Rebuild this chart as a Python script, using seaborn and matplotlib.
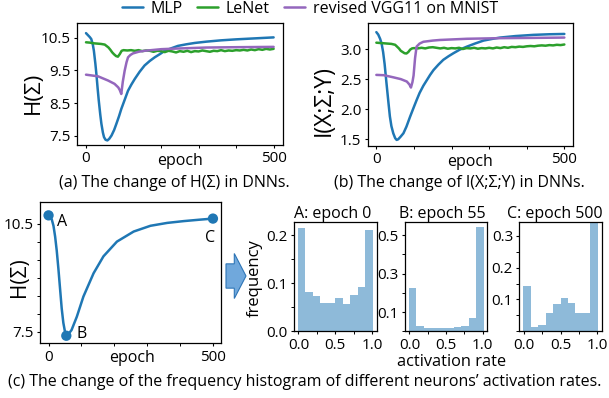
import numpy as np
import pandas as pd
import matplotlib
matplotlib.use("Agg")
import matplotlib.pyplot as plt
import seaborn as sns
from matplotlib.patches import FancyArrow
from matplotlib.ticker import FixedLocator

# ---------------- data ----------------
mlp_epoch_a = [0, 5, 10, 14, 18, 21, 25, 28, 31, 34, 38, 41, 45, 48, 52, 57, 62, 68, 75, 81,
               88, 94, 103, 112, 121, 130, 143, 156, 170, 183, 197, 210, 228, 245, 268, 290,
               321, 360, 400, 450, 500]
mlp_h = [10.64, 10.58, 10.52, 10.46, 10.3, 10.1, 9.7, 9.35, 8.95, 8.58, 8.15, 7.87, 7.6, 7.46,
         7.38, 7.36, 7.41, 7.51, 7.68, 7.87, 8.1, 8.32, 8.6, 8.88, 9.07, 9.24, 9.46, 9.65, 9.79,
         9.9, 10.0, 10.1, 10.18, 10.25, 10.3, 10.34, 10.38, 10.42, 10.45, 10.48, 10.51]
mlp_epoch_b = [0, 5, 10, 14, 18, 22, 27, 32, 36, 40, 45, 50, 54, 58, 64, 72, 80, 90, 100, 107,
               115, 125, 134, 143, 152, 165, 178, 192, 205, 222, 241, 262, 285, 310, 329, 370,
               418, 460, 500]
mlp_i = [3.28, 3.24, 3.17, 3.09, 2.95, 2.75, 2.43, 2.12, 1.88, 1.72, 1.6, 1.52, 1.49, 1.5, 1.54,
         1.6, 1.71, 1.88, 2.04, 2.15, 2.27, 2.39, 2.48, 2.57, 2.65, 2.74, 2.82, 2.88, 2.93, 2.99,
         3.04, 3.09, 3.14, 3.17, 3.19, 3.215, 3.235, 3.245, 3.25]

lenet_epoch = [0, 10, 20, 30, 40, 50, 60, 65, 70, 75, 80, 85, 90, 95, 100, 110, 120, 130, 140,
               150, 160, 170, 180, 190, 200, 210, 220, 230, 240, 250, 260, 270, 280, 290, 300,
               310, 320, 330, 340, 350, 360, 370, 380, 390, 400, 410, 420, 430, 440, 450, 460,
               470, 480, 490, 500]
lenet_h = [10.36, 10.35, 10.33, 10.32, 10.31, 10.29, 10.2, 10.13, 10.05, 9.99, 9.94, 9.92, 10.0,
           10.1, 10.12, 10.11, 10.12, 10.1, 10.12, 10.09, 10.11, 10.1, 10.07, 10.1, 10.09, 10.06,
           10.1, 10.08, 10.05, 10.09, 10.07, 10.1, 10.06, 10.09, 10.08, 10.11, 10.09, 10.07,
           10.1, 10.09, 10.12, 10.09, 10.11, 10.1, 10.12, 10.11, 10.13, 10.11, 10.14, 10.12,
           10.15, 10.13, 10.16, 10.14, 10.16]
lenet_i = [3.105, 3.1, 3.095, 3.09, 3.085, 3.07, 3.01, 2.97, 2.95, 2.93, 2.925, 2.95, 2.99,
           3.01, 3.015, 3.01, 3.02, 3.01, 3.025, 3.03, 3.02, 3.01, 3.02, 3.005, 3.015, 3.01,
           3.02, 3.0, 3.015, 3.01, 3.02, 3.005, 3.015, 3.01, 3.02, 3.01, 3.025, 3.015, 3.03,
           3.02, 3.035, 3.03, 3.04, 3.035, 3.045, 3.05, 3.045, 3.055, 3.06, 3.055, 3.065,
           3.06, 3.07, 3.065, 3.075]

vgg_epoch_a = [0, 32, 59, 76, 86, 90, 94, 98, 103, 108, 112, 118, 125, 140, 156, 201, 245, 321,
               400, 500]
vgg_h = [9.37, 9.32, 9.19, 9.09, 8.98, 8.9, 8.78, 9.15, 9.49, 9.75, 9.9, 9.97, 10.02, 10.07,
         10.1, 10.15, 10.17, 10.2, 10.21, 10.22]
vgg_epoch_b = [0, 20, 45, 65, 81, 88, 92, 96, 99, 103, 107, 115, 125, 150, 169, 241, 329, 420,
               500]
vgg_i = [2.57, 2.565, 2.53, 2.5, 2.46, 2.41, 2.36, 2.45, 2.56, 2.85, 3.04, 3.09, 3.12, 3.14,
         3.15, 3.17, 3.18, 3.185, 3.19]

c_epoch = [0, 5, 10, 15, 20, 25, 30, 35, 40, 45, 50, 54, 60, 70, 86, 106, 137, 167, 208, 259,
           310, 361, 411, 460, 500]
c_h = [10.74, 10.7, 10.62, 10.45, 10.15, 9.75, 9.25, 8.7, 8.15, 7.75, 7.5, 7.39, 7.43, 7.55,
       7.92, 8.48, 9.13, 9.6, 10.01, 10.29, 10.45, 10.53, 10.58, 10.62, 10.65]
point_epochs = [0, 54, 500]
point_h = [10.74, 7.39, 10.65]
point_labels = ["A", "B", "C"]

bin_edges = [-0.01, 0.092, 0.194, 0.296, 0.398, 0.5, 0.602, 0.704, 0.806, 0.908, 1.01]
hist_titles = ["A: epoch 0", "B: epoch 55", "C: epoch 500"]
freq_a = [0.214, 0.081, 0.074, 0.059, 0.059, 0.070, 0.057, 0.076, 0.092, 0.210]
freq_b = [0.227, 0.025, 0.015, 0.015, 0.019, 0.016, 0.021, 0.025, 0.068, 0.540]
freq_c = [0.143, 0.014, 0.020, 0.056, 0.085, 0.105, 0.088, 0.059, 0.059, 0.341]

series_names = ["MLP", "LeNet", "revised VGG11 on MNIST"]
colors = ["#1f77b4", "#2ca02c", "#9467bd"]

# ---------------- style ----------------
sns.set_style("ticks")
FONT = ["Open Sans", "DejaVu Sans"]
plt.rcParams["font.family"] = FONT
FS = 11.5
TS = 11
plt.rcParams.update({
    "font.size": FS,
    "axes.linewidth": 0.9,
    "axes.edgecolor": "black",
    "xtick.major.size": 2.5, "ytick.major.size": 2.5,
    "xtick.minor.size": 2.0, "ytick.minor.size": 2.0,
    "xtick.major.width": 0.8, "ytick.major.width": 0.8,
    "xtick.minor.width": 0.7, "ytick.minor.width": 0.7,
    "xtick.major.pad": 2, "ytick.major.pad": 2,
    "xtick.labelsize": TS, "ytick.labelsize": TS,
    "xtick.color": "black", "ytick.color": "black",
    "text.color": "black", "axes.labelcolor": "black",
})

W, H = 609, 398
fig = plt.figure(figsize=(W / 100, H / 100), dpi=100)


def box(x0, y0, x1, y1):
    return [x0 / W, 1 - y1 / H, (x1 - x0) / W, (y1 - y0) / H]


def ftext(x, y, s, size=FS, **kw):
    fig.text(x / W, 1 - y / H, s, ha="center", va="center", fontsize=size, **kw)


df_mlp_a = pd.DataFrame({"epoch": mlp_epoch_a, "v": mlp_h})
df_len_a = pd.DataFrame({"epoch": lenet_epoch, "v": lenet_h})
df_vgg_a = pd.DataFrame({"epoch": vgg_epoch_a, "v": vgg_h})
df_mlp_b = pd.DataFrame({"epoch": mlp_epoch_b, "v": mlp_i})
df_len_b = pd.DataFrame({"epoch": lenet_epoch, "v": lenet_i})
df_vgg_b = pd.DataFrame({"epoch": vgg_epoch_b, "v": vgg_i})

# ---------------- panel (a) ----------------
ax_a = fig.add_axes(box(77, 23, 283, 145))
for df, col, name in zip([df_mlp_a, df_len_a, df_vgg_a], colors, series_names):
    sns.lineplot(data=df, x="epoch", y="v", ax=ax_a, color=col, lw=1.8, label=name)
ax_a.set_xlim(-24, 525)
ax_a.set_ylim(7.22, 10.95)
ax_a.set_yticks([7.5, 8.5, 9.5, 10.5])
ax_a.set_xticks([0, 500])
ax_a.xaxis.set_minor_locator(FixedLocator([100, 200, 300, 400]))

# ---------------- panel (b) ----------------
ax_b = fig.add_axes(box(367.7, 22.7, 573, 145.7))
for df, col in zip([df_mlp_b, df_len_b, df_vgg_b], colors):
    sns.lineplot(data=df, x="epoch", y="v", ax=ax_b, color=col, lw=1.8, legend=False)
ax_b.set_xlim(-23, 523)
ax_b.set_ylim(1.394, 3.437)
ax_b.set_yticks([1.5, 2.0, 2.5, 3.0])
ax_b.set_xticks([0, 500])
ax_b.xaxis.set_minor_locator(FixedLocator([100, 200, 300, 400]))

handles, labels = ax_a.get_legend_handles_labels()
ax_a.get_legend().remove()
fig.legend(handles, labels, loc="center", bbox_to_anchor=(310 / W, 1 - 9 / H), ncol=3,
           frameon=False, fontsize=FS, handlelength=1.3, handletextpad=0.5,
           columnspacing=0.9, borderaxespad=0, borderpad=0)

for ax in (ax_a, ax_b):
    ax.set_xlabel("")
    ax.set_ylabel("")

# ---------------- panel (c) line ----------------
ax_c = fig.add_axes(box(40, 201.7, 220.5, 343.3))
df_c = pd.DataFrame({"epoch": c_epoch, "H": c_h})
sns.lineplot(data=df_c, x="epoch", y="H", ax=ax_c, color=colors[0], lw=1.8)
sns.scatterplot(x=point_epochs, y=point_h, ax=ax_c, color=colors[0], s=55, edgecolor="none",
                zorder=5)
offsets = [(6, -4.5, "left"), (7, 1, "left"), (-2, -14, "center")]
for e, h, lab, (dx, dy, ha) in zip(point_epochs, point_h, point_labels, offsets):
    ax_c.annotate(lab, (e, h), xytext=(dx, dy), textcoords="offset points",
                  ha=ha, va="center", fontsize=FS)
ax_c.set_xlim(-26, 523)
ax_c.set_ylim(7.18, 11.12)
ax_c.set_yticks([7.5, 10.5])
ax_c.yaxis.set_minor_locator(FixedLocator([8.0, 8.5, 9.0, 9.5, 10.0]))
ax_c.set_xticks([0, 500])
ax_c.xaxis.set_minor_locator(FixedLocator([100, 200, 300, 400]))
ax_c.set_xlabel("")
ax_c.set_ylabel("")

# ---------------- histograms ----------------
hist_boxes = [box(294, 221.7, 376.7, 331.3), box(405, 221.7, 487.3, 331.3),
              box(519.3, 221.7, 601.7, 331.3)]
hist_ylims = [0.228, 0.57, 0.344]
hist_major = [[0.0, 0.1, 0.2], [0.1, 0.3, 0.5], [0.1, 0.2, 0.3]]
hist_minor = [[0.05, 0.15], [0.0, 0.2, 0.4], [0.0, 0.05, 0.15, 0.25]]
title_x = [0.466, 0.456, 0.433]
for bx, freq, title, ylim, maj, mnr, tx in zip(hist_boxes, [freq_a, freq_b, freq_c],
                                               hist_titles, hist_ylims, hist_major,
                                               hist_minor, title_x):
    ax = fig.add_axes(bx)
    dfh = pd.DataFrame({"rate": [(a + b) / 2 for a, b in zip(bin_edges[:-1], bin_edges[1:])],
                        "freq": freq})
    sns.histplot(data=dfh, x="rate", weights="freq", bins=bin_edges, ax=ax, color=colors[0],
                 alpha=0.5, edgecolor="none", linewidth=0)
    ax.set_xlim(-0.061, 1.061)
    ax.set_ylim(0, ylim)
    ax.set_yticks(maj)
    ax.yaxis.set_minor_locator(FixedLocator(mnr))
    ax.set_xticks([0.0, 0.5, 1.0])
    ax.xaxis.set_minor_locator(FixedLocator([0.25, 0.75]))
    ax.set_xlabel("")
    ax.set_ylabel("")
    ax.set_title(title, fontsize=11.5, pad=3, x=tx)

# ---------------- labels & captions ----------------
ftext(33, 93, "H(Σ)", size=16, rotation=90)
ftext(180, 161, "epoch")
ftext(174.5, 183, "(a) The change of H(Σ) in DNNs.")
ftext(324, 101, "I(X;Σ;Y)", size=16.5, rotation=90)
ftext(470, 162, "epoch")
ftext(459, 183, "(b) The change of I(X;Σ;Y) in DNNs.")
ftext(20, 277, "H(Σ)", size=15, rotation=90)
ftext(131.7, 358, "epoch")
ftext(255, 278, "frequency", size=12, rotation=90)
ftext(452, 362, "activation rate", size=11.8)
ftext(305, 382, "(c) The change of the frequency histogram of different neurons\u2019 activation rates.")

# arrow
arrow = FancyArrow(226 / W, 1 - 276 / H, 20 / W, 0, width=24.3 / H, head_width=45 / H,
                   head_length=11.7 / W, length_includes_head=True, transform=fig.transFigure,
                   facecolor="#70a8dc", edgecolor="#2e75b6", linewidth=0.8)
fig.add_artist(arrow)

fig.savefig("out.png", dpi=100)
